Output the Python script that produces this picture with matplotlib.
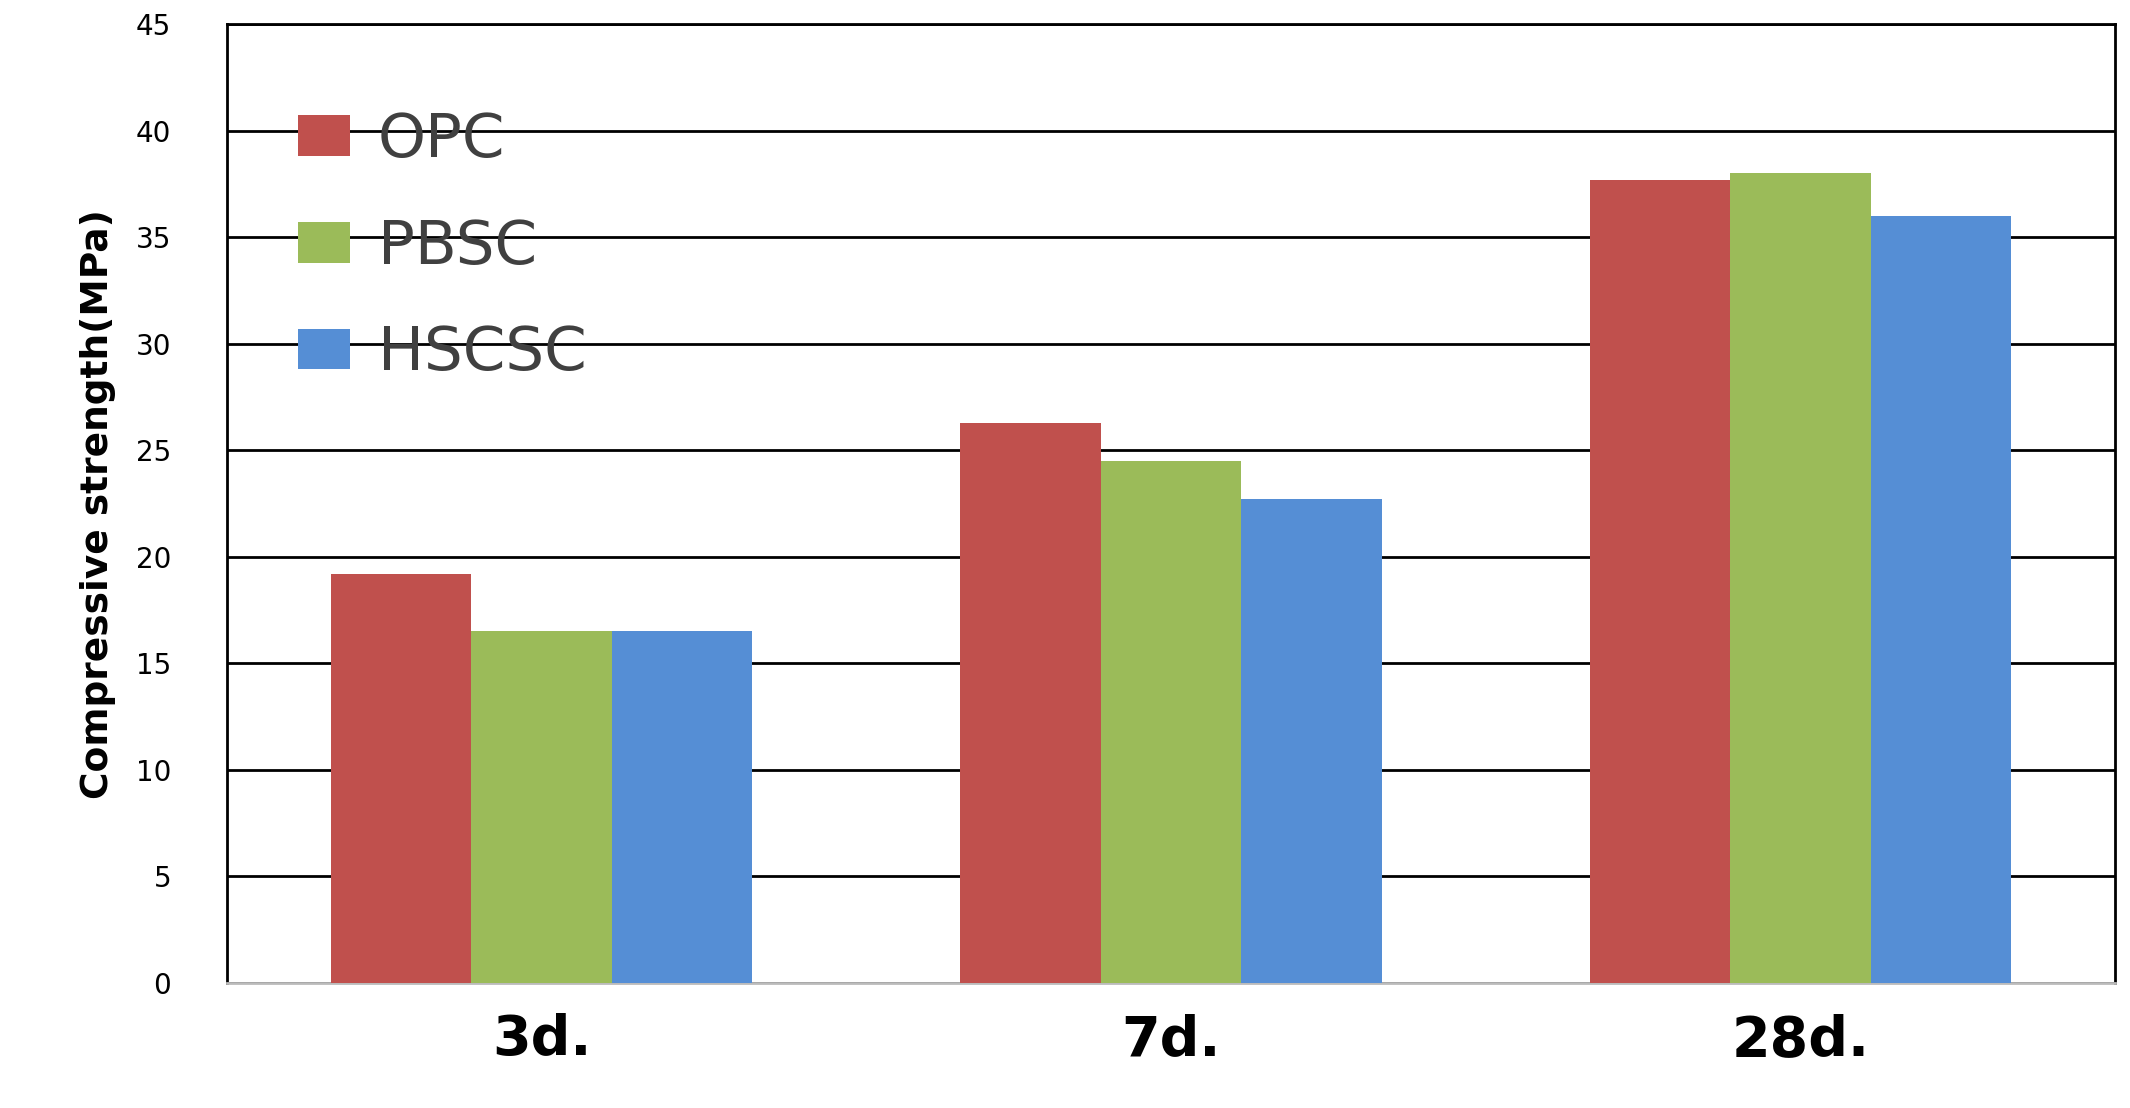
import matplotlib
matplotlib.use("Agg")
import matplotlib.pyplot as plt
import numpy as np

ages = ["3d.", "7d.", "28d."]
series_names = ["OPC", "PBSC", "HSCSC"]
opc = [19.2, 26.3, 37.7]
pbsc = [16.5, 24.5, 38.0]
hscsc = [16.5, 22.7, 36.0]
colors = ["#c0504d", "#9bbb59", "#558ed5"]

fig = plt.figure(figsize=(21.3, 11.08), dpi=100)
ax = fig.add_axes([0.1065, 0.113, 0.8865, 0.865])

x = np.arange(len(ages))
width = 0.223
for i, (name, vals) in enumerate(zip(series_names, [opc, pbsc, hscsc])):
    ax.bar(x + (i - 1) * width, vals, width, color=colors[i], label=name, zorder=3)

ax.set_xlim(-0.5, 2.5)
ax.set_ylim(0, 45)
ax.set_yticks(range(0, 46, 5))
ax.yaxis.grid(True, color="black", linewidth=2, zorder=0)
ax.set_axisbelow(True)
for s in ax.spines.values():
    s.set_color("black")
    s.set_linewidth(2)
ax.spines["bottom"].set_color("#bbbbbb")
ax.tick_params(axis="both", length=0)
ax.tick_params(axis="y", labelsize=20, pad=40)
ax.set_xticks(x)
ax.set_xticklabels(ages, fontsize=40, fontweight="bold")
ax.tick_params(axis="x", pad=22)
ax.set_ylabel("Compressive strength(MPa)", fontsize=27, fontweight="bold", labelpad=14)

leg = ax.legend(loc="upper left", bbox_to_anchor=(0.025, 0.935), frameon=False,
                fontsize=44, handlelength=0.85, handleheight=0.64,
                labelspacing=0.78, handletextpad=0.45, borderaxespad=0)
for t in leg.get_texts():
    t.set_color("#404040")

fig.savefig("out.png", dpi=100)
